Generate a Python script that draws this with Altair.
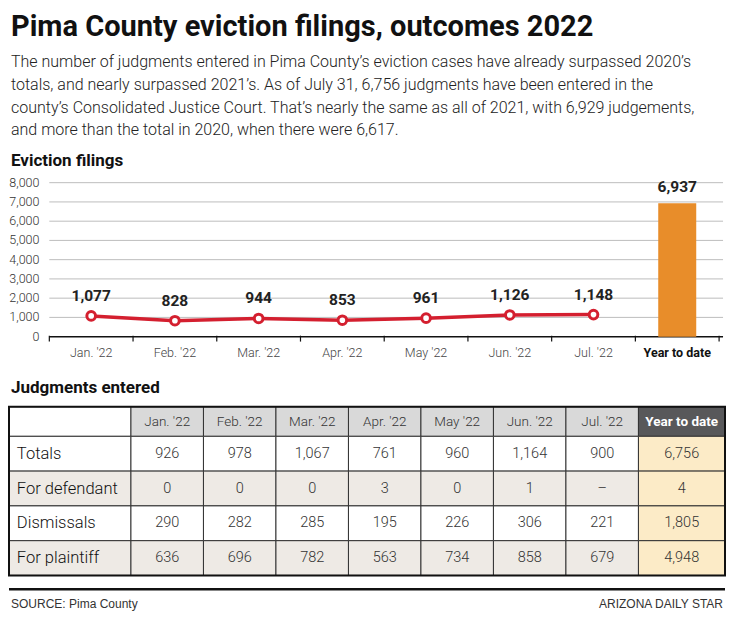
import altair as alt
import pandas as pd

# ---------------- data ----------------
title_text = "Pima County eviction filings, outcomes 2022"
subtitle_lines = [
    "The number of judgments entered in Pima County\u2019s eviction cases have already surpassed 2020\u2019s",
    "totals, and nearly surpassed 2021\u2019s. As of July 31, 6,756 judgments have been entered in the",
    "county\u2019s Consolidated Justice Court. That\u2019s nearly the same as all of 2021, with 6,929 judgements,",
    "and more than the total in 2020, when there were 6,617.",
]
chart_heading = "Eviction filings"
table_heading = "Judgments entered"
source_text = "SOURCE: Pima County"
credit_text = "ARIZONA DAILY STAR"

months = ["Jan. '22", "Feb. '22", "Mar. '22", "Apr. '22", "May '22", "Jun. '22", "Jul. '22"]
ytd_label = "Year to date"
filings = [1077, 828, 944, 853, 961, 1126, 1148]
filings_ytd = 6937
y_ticks = [0, 1000, 2000, 3000, 4000, 5000, 6000, 7000, 8000]

row_labels = ["Totals", "For defendant", "Dismissals", "For plaintiff"]
totals = [926, 978, 1067, 761, 960, 1164, 900]
for_defendant = [0, 0, 0, 3, 0, 1, None]
dismissals = [290, 282, 285, 195, 226, 306, 221]
for_plaintiff = [636, 696, 782, 563, 734, 858, 679]
ytd_values = [6756, 4, 1805, 4948]

# ---------------- layout helpers ----------------
W, H = 718, 606


def sx(r):
    return 1 + (r - 3) * 716 / 728


def sy(r):
    return (r - 4) * 604 / 612


COND = "Roboto, 'Liberation Sans', sans-serif"
PLAIN = "'Liberation Sans', Arial, sans-serif"
RED = "#D41F2F"
ORANGE = "#E88D2A"
DARK = "#222222"
GRID = "#BDBDBD"
HEAD_GRAY = "#D9D9D9"
HEAD_DARK = "#58585A"
BEIGE = "#EEEAE5"
YELLOW = "#FCEBC7"
BORDER = "#333333"

one = pd.DataFrame({"a": [0]})

# ---------------- header texts ----------------
title = alt.Chart(one).mark_text(
    text=title_text, font=COND, fontSize=29, fontWeight="bold", align="left",
    baseline="alphabetic", color="#111"
).encode(x=alt.value(sx(5)), y=alt.value(sy(32)))

sub_df = pd.DataFrame({"t": subtitle_lines, "i": list(range(len(subtitle_lines)))})
subtitle = alt.Chart(sub_df).mark_text(
    font=COND, fontSize=16, fontWeight=300, align="left", baseline="alphabetic", color="#222"
).encode(
    x=alt.value(sx(5)),
    y=alt.Y("i:Q", scale=alt.Scale(domain=[0, 3], range=[sy(64), sy(133)]), axis=None),
    text="t:N",
)

h1 = alt.Chart(one).mark_text(
    text=chart_heading, font=COND, fontSize=17, fontWeight="bold", align="left",
    baseline="alphabetic", color="#111"
).encode(x=alt.value(sx(5)), y=alt.value(sy(164)))

h2 = alt.Chart(one).mark_text(
    text=table_heading, font=COND, fontSize=17, fontWeight="bold", align="left",
    baseline="alphabetic", color="#111"
).encode(x=alt.value(sx(5)), y=alt.value(sy(394)))

# ---------------- eviction chart ----------------
cats = months + [ytd_label]
xs = alt.Scale(type="band", domain=cats, range=[sx(44), sx(725)], paddingInner=0, paddingOuter=0)
ys = alt.Scale(type="linear", domain=[0, 8000], range=[sy(337), sy(181)], zero=True, nice=False)

grid_df = pd.DataFrame({"v": y_ticks[1:]})
grid = alt.Chart(grid_df).mark_rule(color=GRID, strokeWidth=1).encode(
    x=alt.value(sx(44)), x2=alt.value(sx(729)),
    y=alt.Y("v:Q", scale=ys, axis=None),
)

ylab_df = pd.DataFrame({"v": y_ticks})
ylabels = alt.Chart(ylab_df).mark_text(
    font=COND, fontSize=12.5, fontWeight=300, align="right", baseline="middle", color="#333"
).encode(
    x=alt.value(sx(34)),
    y=alt.Y("v:Q", scale=ys, axis=None),
    text=alt.Text("v:Q", format=","),
)

baseline_rule = alt.Chart(pd.DataFrame({"v": [0]})).mark_rule(color="#111", strokeWidth=1.5).encode(
    x=alt.value(sx(44)), x2=alt.value(sx(729)),
    y=alt.Y("v:Q", scale=ys, axis=None),
)

cat_df = pd.DataFrame({"cat": cats})
ticks_left = alt.Chart(cat_df).mark_rule(color="#111", strokeWidth=1.2).encode(
    x=alt.X("cat:N", scale=xs, axis=None, bandPosition=0),
    y=alt.value(sy(336)), y2=alt.value(sy(342)),
)
ticks_right = alt.Chart(pd.DataFrame({"cat": [ytd_label]})).mark_rule(color="#111", strokeWidth=1.2).encode(
    x=alt.X("cat:N", scale=xs, axis=None, bandPosition=1),
    y=alt.value(sy(336)), y2=alt.value(sy(342)),
)

line_df = pd.DataFrame({"cat": months, "v": filings})
line = alt.Chart(line_df).mark_line(color=RED, strokeWidth=3.5).encode(
    x=alt.X("cat:N", scale=xs, axis=None, bandPosition=0.5),
    y=alt.Y("v:Q", scale=ys, axis=None),
)
points = alt.Chart(line_df).mark_point(
    filled=True, fill="white", stroke=RED, strokeWidth=3, size=75, opacity=1, shape="circle"
).encode(
    x=alt.X("cat:N", scale=xs, axis=None, bandPosition=0.5),
    y=alt.Y("v:Q", scale=ys, axis=None),
)
point_labels = alt.Chart(line_df).mark_text(
    font=COND, fontSize=15.5, fontWeight="bold", baseline="alphabetic", dy=-15, color=DARK
).encode(
    x=alt.X("cat:N", scale=xs, axis=None, bandPosition=0.5),
    y=alt.Y("v:Q", scale=ys, axis=None),
    text=alt.Text("v:Q", format=","),
)

bar_df = pd.DataFrame({"cat": [ytd_label], "v": [filings_ytd]})
bar = alt.Chart(bar_df).mark_bar(color=ORANGE, size=38).encode(
    x=alt.X("cat:N", scale=xs, axis=None),
    y=alt.Y("v:Q", scale=ys, axis=None),
)
bar_label = alt.Chart(bar_df).mark_text(
    font=COND, fontSize=15.5, fontWeight="bold", baseline="alphabetic", dy=-11, color=DARK
).encode(
    x=alt.X("cat:N", scale=xs, axis=None, bandPosition=0.5),
    y=alt.Y("v:Q", scale=ys, axis=None),
    text=alt.Text("v:Q", format=","),
)

xlab_df = pd.DataFrame({"cat": months})
xlabels = alt.Chart(xlab_df).mark_text(
    font=COND, fontSize=12.5, fontWeight=300, baseline="middle", color="#444"
).encode(
    x=alt.X("cat:N", scale=xs, axis=None, bandPosition=0.5),
    y=alt.value(sy(354)),
    text="cat:N",
)
xlabel_ytd = alt.Chart(pd.DataFrame({"cat": [ytd_label]})).mark_text(
    font=COND, fontSize=12.5, fontWeight="bold", baseline="middle", color="#111"
).encode(
    x=alt.X("cat:N", scale=xs, axis=None, bandPosition=0.5),
    y=alt.value(sy(354)),
    text="cat:N",
)

# ---------------- table ----------------
x_lab = alt.Scale(type="band", domain=["label"], range=[sx(3), sx(127)], paddingInner=0, paddingOuter=0)
x_mon = alt.Scale(type="band", domain=months, range=[sx(127), sx(643)], paddingInner=0, paddingOuter=0)
x_ytd = alt.Scale(type="band", domain=[ytd_label], range=[sx(643), sx(731)], paddingInner=0, paddingOuter=0)
y_head = alt.Scale(type="band", domain=["head"], range=[sy(408), sy(438)], paddingInner=0, paddingOuter=0)
y_body = alt.Scale(type="band", domain=row_labels, range=[sy(438), sy(579)], paddingInner=0, paddingOuter=0)
row_fill = alt.Scale(domain=row_labels, range=["#FFFFFF", BEIGE, "#FFFFFF", BEIGE])

series = [totals, for_defendant, dismissals, for_plaintiff]
body_rows = []
for r, vals in zip(row_labels, series):
    for m, v in zip(months, vals):
        body_rows.append({"row": r, "col": m, "txt": "\u2013" if v is None else f"{v:,}"})
body_df = pd.DataFrame(body_rows)
ytd_df = pd.DataFrame({"row": row_labels, "col": [ytd_label] * 4, "txt": [f"{v:,}" for v in ytd_values]})
lab_df = pd.DataFrame({"row": row_labels, "col": ["label"] * 4})
head_df = pd.DataFrame({"col": months, "part": ["head"] * len(months)})
head_ytd_df = pd.DataFrame({"col": [ytd_label], "part": ["head"]})
head_lab_df = pd.DataFrame({"col": ["label"], "part": ["head"]})

cell_style = dict(stroke=BORDER, strokeWidth=1)

head_lab_cell = alt.Chart(head_lab_df).mark_rect(fill="white", **cell_style).encode(
    x=alt.X("col:N", scale=x_lab, axis=None), y=alt.Y("part:N", scale=y_head, axis=None))
head_cells = alt.Chart(head_df).mark_rect(fill=HEAD_GRAY, **cell_style).encode(
    x=alt.X("col:N", scale=x_mon, axis=None), y=alt.Y("part:N", scale=y_head, axis=None))
head_ytd_cell = alt.Chart(head_ytd_df).mark_rect(fill=HEAD_DARK, **cell_style).encode(
    x=alt.X("col:N", scale=x_ytd, axis=None), y=alt.Y("part:N", scale=y_head, axis=None))
head_text = alt.Chart(head_df).mark_text(
    font=COND, fontSize=13.5, fontWeight=300, color="#333", baseline="middle").encode(
    x=alt.X("col:N", scale=x_mon, axis=None, bandPosition=0.5),
    y=alt.Y("part:N", scale=y_head, axis=None, bandPosition=0.5), text="col:N")
head_ytd_text = alt.Chart(head_ytd_df).mark_text(
    font=COND, fontSize=13.5, fontWeight="bold", color="white", baseline="middle").encode(
    x=alt.X("col:N", scale=x_ytd, axis=None, bandPosition=0.5),
    y=alt.Y("part:N", scale=y_head, axis=None, bandPosition=0.5), text="col:N")

lab_cells = alt.Chart(lab_df).mark_rect(**cell_style).encode(
    x=alt.X("col:N", scale=x_lab, axis=None), y=alt.Y("row:N", scale=y_body, axis=None),
    color=alt.Color("row:N", scale=row_fill, legend=None))
lab_text = alt.Chart(lab_df).mark_text(
    font=COND, fontSize=16.5, fontWeight=300, color="#111", align="left", baseline="middle").encode(
    x=alt.value(sx(11)),
    y=alt.Y("row:N", scale=y_body, axis=None, bandPosition=0.5), text="row:N")

body_cells = alt.Chart(body_df).mark_rect(**cell_style).encode(
    x=alt.X("col:N", scale=x_mon, axis=None), y=alt.Y("row:N", scale=y_body, axis=None),
    color=alt.Color("row:N", scale=row_fill, legend=None))
body_text = alt.Chart(body_df).mark_text(
    font=COND, fontSize=14.5, fontWeight=300, color="#333", baseline="middle").encode(
    x=alt.X("col:N", scale=x_mon, axis=None, bandPosition=0.5),
    y=alt.Y("row:N", scale=y_body, axis=None, bandPosition=0.5), text="txt:N")

ytd_cells = alt.Chart(ytd_df).mark_rect(fill=YELLOW, **cell_style).encode(
    x=alt.X("col:N", scale=x_ytd, axis=None), y=alt.Y("row:N", scale=y_body, axis=None))
ytd_text = alt.Chart(ytd_df).mark_text(
    font=COND, fontSize=14.5, fontWeight=300, color="#333", baseline="middle").encode(
    x=alt.X("col:N", scale=x_ytd, axis=None, bandPosition=0.5),
    y=alt.Y("row:N", scale=y_body, axis=None, bandPosition=0.5), text="txt:N")

outer = alt.Chart(one).mark_rect(fillOpacity=0, stroke="#111", strokeWidth=2).encode(
    x=alt.value(sx(3)), x2=alt.value(sx(731)), y=alt.value(sy(408)), y2=alt.value(sy(579)))

# ---------------- footer ----------------
foot_rule = alt.Chart(one).mark_rule(color="#111", strokeWidth=2.5).encode(
    x=alt.value(sx(3)), x2=alt.value(sx(731)), y=alt.value(sy(593)))
source = alt.Chart(one).mark_text(
    text=source_text, font=PLAIN, fontSize=12, align="left", baseline="middle", color="#333"
).encode(x=alt.value(sx(5)), y=alt.value(sy(608)))
credit = alt.Chart(one).mark_text(
    text=credit_text, font=PLAIN, fontSize=12, align="right", baseline="middle", color="#333"
).encode(x=alt.value(sx(729)), y=alt.value(sy(608)))

chart = alt.layer(
    title, subtitle, h1, h2,
    grid, ylabels, baseline_rule, ticks_left, ticks_right,
    bar, bar_label, line, points, point_labels, xlabels, xlabel_ytd,
    head_lab_cell, head_cells, head_ytd_cell, head_text, head_ytd_text,
    lab_cells, lab_text, body_cells, body_text, ytd_cells, ytd_text, outer,
    foot_rule, source, credit,
).resolve_scale(
    x="independent", y="independent"
).properties(
    width=W, height=H, autosize="none", padding=0, background="white"
).configure_view(strokeWidth=0)

chart.save("out.html", embed_options={"renderer": "svg", "actions": False})
